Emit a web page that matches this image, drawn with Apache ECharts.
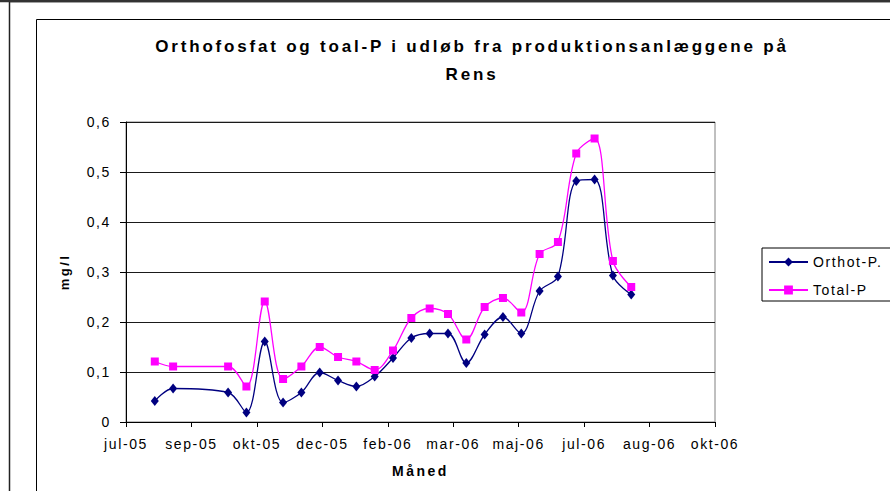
<!DOCTYPE html>
<html>
<head>
<meta charset="utf-8">
<script src="https://cdn.jsdelivr.net/npm/echarts@6/dist/echarts.min.js"></script>
<style>
  html, body { margin: 0; padding: 0; background: #fff; }
  #chart { width: 890px; height: 491px; }
  /* spaced-out lettering, as in the original spreadsheet chart */
  #chart text { letter-spacing: 1.6px; }
  #chart text[style*="bold"] { letter-spacing: 2.5px; }
  #chart text[style*="17px"] { letter-spacing: 2.8px; }
</style>
</head>
<body>
<div id="chart"></div>
<script>
// Sampling dates (fortnightly samples)
const sampleDates = [
  '2005-08-08', '2005-08-22', '2005-10-03', '2005-10-17', '2005-10-31',
  '2005-11-14', '2005-11-28', '2005-12-12', '2005-12-26', '2006-01-09',
  '2006-01-23', '2006-02-06', '2006-02-20', '2006-03-06', '2006-03-20',
  '2006-04-03', '2006-04-17', '2006-05-01', '2006-05-15', '2006-05-29',
  '2006-06-12', '2006-06-26', '2006-07-10', '2006-07-24', '2006-08-07'
];

// Orthophosphate, mg/l
const orthoP = [
  0.042, 0.067, 0.059, 0.019, 0.161,
  0.039, 0.059, 0.099, 0.083, 0.071,
  0.091, 0.128, 0.168, 0.177, 0.177,
  0.118, 0.175, 0.210, 0.177, 0.262,
  0.291, 0.482, 0.485, 0.293, 0.255
];

// Total phosphorus, mg/l
const totalP = [
  0.121, 0.111, 0.111, 0.071, 0.241,
  0.086, 0.111, 0.150, 0.130, 0.121,
  0.104, 0.143, 0.208, 0.227, 0.216,
  0.165, 0.230, 0.248, 0.219, 0.336,
  0.360, 0.537, 0.567, 0.322, 0.270
];

const seriesNames = ['Orthot-P.', 'Total-P'];
const monthNames = ['jan', 'feb', 'mar', 'apr', 'maj', 'jun', 'jul', 'aug', 'sep', 'okt', 'nov', 'dec'];
const titleText = 'Orthofosfat og toal-P i udløb fra produktionsanlæggene på\nRens';

// spreadsheet day serial (days since 1899-12-30)
function toSerial(iso) {
  const p = iso.split('-').map(Number);
  return Date.UTC(p[0], p[1] - 1, p[2]) / 86400000 + 25569;
}
function serialLabel(v) {
  const d = new Date((v - 25569) * 86400000);
  return monthNames[d.getUTCMonth()] + '-' + String(d.getUTCFullYear() % 100).padStart(2, '0');
}

const xs = sampleDates.map(toSerial);
const orthoData = xs.map((x, i) => [x, orthoP[i]]);
const totalData = xs.map((x, i) => [x, totalP[i]]);

const FONT = "'Liberation Sans', Arial, sans-serif";

const chart = echarts.init(document.getElementById('chart'), null, { renderer: 'svg' });
chart.setOption({
  backgroundColor: '#fff',
  animation: false,
  textStyle: { fontFamily: FONT, color: '#000' },
  title: {
    text: titleText,
    left: 467,
    top: 27,
    textAlign: 'center',
    textStyle: { fontFamily: FONT, fontSize: 17, fontWeight: 'bold', color: '#000', lineHeight: 28 }
  },
  graphic: [
    // outer frame
    { type: 'rect', shape: { x: 9.5, y: 1.5, width: 1000, height: 1000 }, style: { fill: 'none', stroke: '#222', lineWidth: 1.5 }, silent: true },
    { type: 'line', shape: { x1: 0, y1: 1, x2: 890, y2: 1 }, style: { stroke: '#333', lineWidth: 2.5 }, silent: true },
    // chart area frame
    { type: 'rect', shape: { x: 36.5, y: 19.5, width: 1000, height: 1000 }, style: { fill: 'none', stroke: '#000', lineWidth: 1 }, silent: true }
  ],
  legend: {
    data: seriesNames,
    orient: 'vertical',
    left: 762,
    top: 248,
    padding: [7, 30, 4, 6],
    itemWidth: 39,
    itemHeight: 11,
    itemGap: 14,
    borderColor: '#000',
    borderWidth: 1,
    backgroundColor: '#fff',
    textStyle: { fontFamily: FONT, fontSize: 14, color: '#000' }
  },
  grid: {
    left: 126,
    top: 122,
    right: 175,
    bottom: 69,
    show: true,
    borderColor: '#808080',
    borderWidth: 1,
    backgroundColor: 'transparent'
  },
  xAxis: {
    type: 'value',
    min: 38550,
    max: 39000,
    interval: 50,
    name: 'Måned',
    nameLocation: 'middle',
    nameGap: 42,
    nameTextStyle: { fontFamily: FONT, fontSize: 14, fontWeight: 'bold', color: '#000' },
    axisLine: { lineStyle: { color: '#000', width: 1 } },
    axisTick: { show: true, length: 5, lineStyle: { color: '#000' } },
    axisLabel: { formatter: serialLabel, margin: 15, fontFamily: FONT, fontSize: 14, color: '#000', showMinLabel: true, showMaxLabel: true },
    splitLine: { show: false }
  },
  yAxis: {
    type: 'value',
    min: 0,
    max: 0.6,
    interval: 0.1,
    name: 'mg/l',
    nameLocation: 'middle',
    nameRotate: 90,
    nameGap: 55,
    nameTextStyle: { fontFamily: FONT, fontSize: 13, fontWeight: 'bold', color: '#000' },
    axisLine: { show: true, lineStyle: { color: '#000', width: 1 } },
    axisTick: { show: true, length: 6, lineStyle: { color: '#000' } },
    axisLabel: {
      margin: 15,
      fontFamily: FONT, fontSize: 14, color: '#000',
      formatter: v => (v === 0 ? '0' : v.toFixed(1).replace('.', ','))
    },
    splitLine: { show: true, lineStyle: { color: '#1a1a1a', width: 1 } }
  },
  series: [
    {
      name: seriesNames[0],
      type: 'line',
      data: orthoData,
      smooth: 0.35,
      symbol: 'diamond',
      symbolSize: [8, 10],
      lineStyle: { color: '#000080', width: 1.3 },
      itemStyle: { color: '#000080' },
      z: 3
    },
    {
      name: seriesNames[1],
      type: 'line',
      data: totalData,
      smooth: 0.35,
      symbol: 'rect',
      symbolSize: 8,
      lineStyle: { color: '#ff00ff', width: 1.3 },
      itemStyle: { color: '#ff00ff' },
      z: 4
    }
  ]
});
</script>
</body>
</html>
